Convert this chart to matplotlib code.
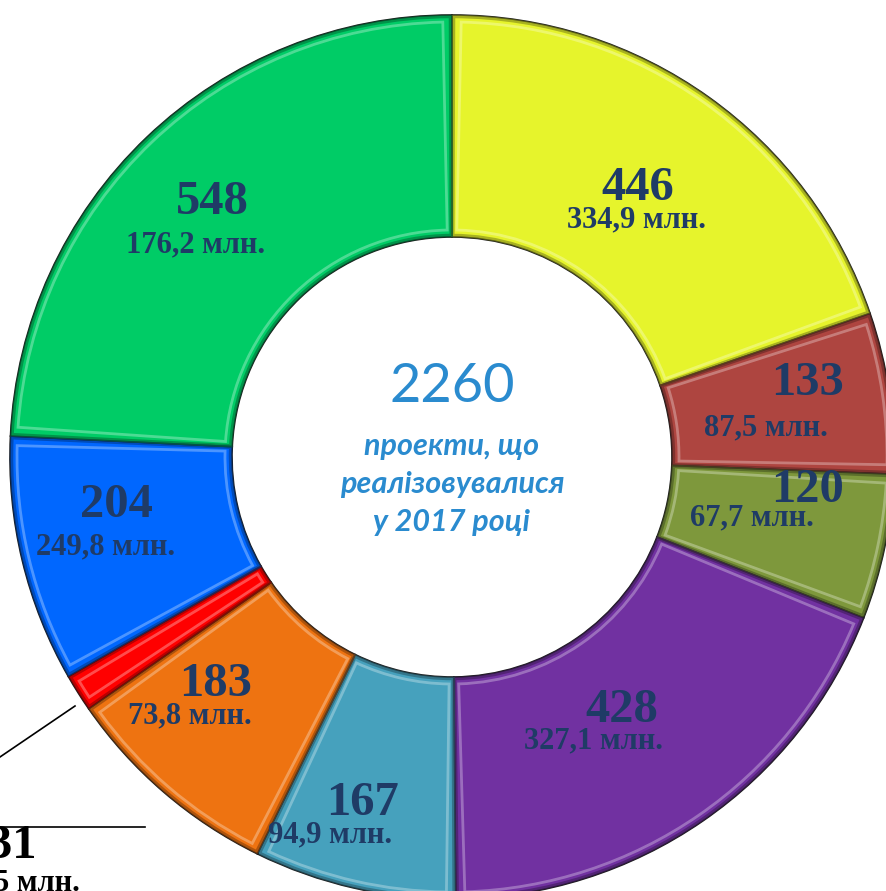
import matplotlib.pyplot as plt
import matplotlib.colors as mcolors
from matplotlib.patches import Wedge
import numpy as np

# ── Data ──────────────────────────────────────────────────────────────────────
counts = [446, 133, 120, 428, 167, 183, 31, 204, 548]
amounts = ["334,9", "87,5", "67,7", "327,1", "94,9", "73,8", "12,5", "249,8", "176,2"]
colors = ["#E6F42C", "#AE4540", "#7E983C", "#7131A1", "#46A1BD",
          "#EE7311", "#FF0000", "#0067FF", "#00CC66"]
total_label = "2260"
center_lines = ["проекти, що", "реалізовувалися", "у 2017 році"]

# label anchors in pixels (x, y from top) for number / amount
label_pos = [
    ((638, 188), (637, 220)),
    ((808, 383), (766, 428)),
    ((808, 490), (752, 518)),
    ((622, 710), (594, 741)),
    ((363, 803), (330, 835)),
    ((216, 684), (190, 716)),
    ((12, 846), (18, 883)),
    ((116, 505), (106, 547)),
    ((212, 202), (196, 245)),
]

W, H = 886, 891
CX, CY = 452, H - 457
R, WIDTH = 442, 222
NAVY = "#1F3B66"

plt.rcParams["font.family"] = ["Liberation Serif", "DejaVu Serif"]

fig = plt.figure(figsize=(W / 100, H / 100), dpi=100)
ax = fig.add_axes([0, 0, 1, 1])

wedges, _ = ax.pie(counts, colors=colors, startangle=90, counterclock=False,
                   radius=R, center=(CX, CY),
                   wedgeprops=dict(width=WIDTH, edgecolor="#1a1a1a", linewidth=1.2))

# simple bevel: darker rim + light inner highlight
for w, c in zip(wedges, colors):
    rgb = np.array(mcolors.to_rgb(c))
    dark = tuple(rgb * 0.55)
    light = tuple(1 - (1 - rgb) * 0.45)
    inset = 7
    t1, t2 = w.theta1, w.theta2
    dth = np.degrees(inset / (R - WIDTH / 2))
    if t2 - t1 > 2 * dth + 1:
        ax.add_patch(Wedge((CX, CY), R - inset, t1 + dth, t2 - dth,
                           width=WIDTH - 2 * inset, facecolor="none",
                           edgecolor=light, linewidth=2.0, alpha=0.55))
    ax.add_patch(Wedge((CX, CY), R - 1.5, t1 + 0.2, t2 - 0.2,
                       width=WIDTH - 3, facecolor="none",
                       edgecolor=dark, linewidth=2.5, alpha=0.6))

for i, (n, amt) in enumerate(zip(counts, amounts)):
    (nx, ny), (mx, my) = label_pos[i]
    col = "black" if n == 31 else NAVY
    ax.text(nx, H - ny, str(n), ha="center", va="center", fontsize=35,
            fontweight="bold", color=col)
    ax.text(mx, H - my, f"{amt} млн.", ha="center", va="center", fontsize=22,
            fontweight="bold", color=col)

# leader line for the small red slice
ax.plot([75, -103, 145], [H - 706, H - 827, H - 827], color="black", lw=1.2,
        clip_on=True)

# centre text
ax.text(CX, H - 386, total_label, ha="center", va="center", fontsize=39,
        color="#2A8BCF", family=["Lato", "DejaVu Sans"])
for k, line in enumerate(center_lines):
    ax.text(CX, H - (446 + k * 38), line, ha="center", va="center", fontsize=22,
            color="#2A8BCF", fontweight="bold", fontstyle="italic",
            family=["Lato", "DejaVu Sans"])

ax.set_xlim(0, W)
ax.set_ylim(0, H)
ax.set_aspect("equal")
ax.axis("off")

fig.savefig("out.png", dpi=100)
